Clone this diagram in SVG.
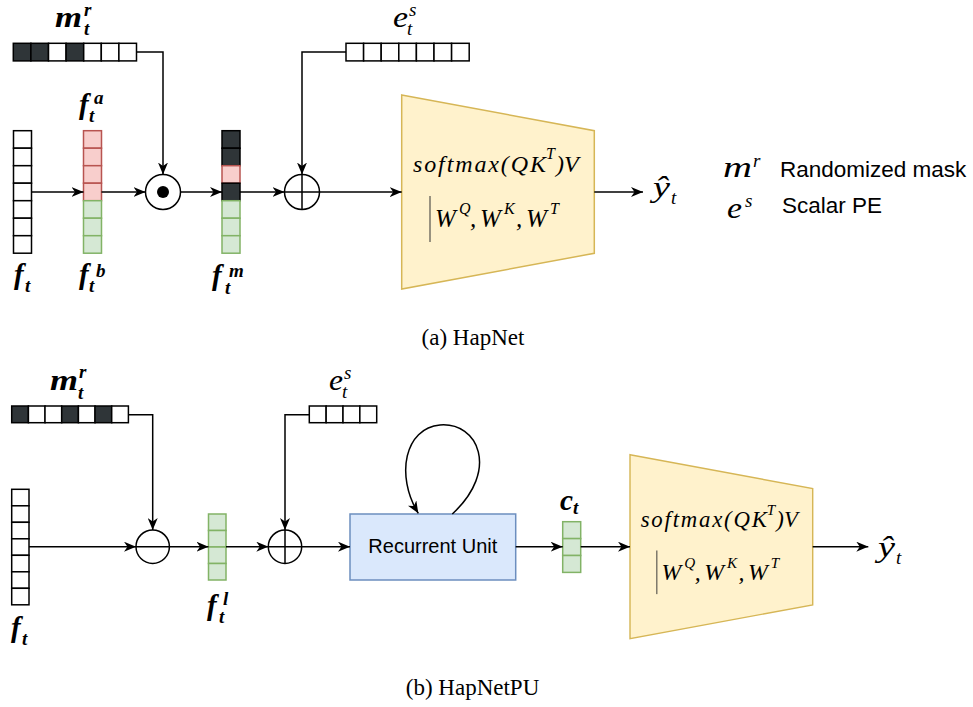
<svg xmlns="http://www.w3.org/2000/svg" width="973" height="707" viewBox="0 0 973 707">
<style>
.w{fill:#fff;stroke:#000;stroke-width:1.5}
.d{fill:#2f3538;stroke:#000;stroke-width:1.5}
.r{fill:#f8cecc;stroke:#b85450;stroke-width:1.5}
.g{fill:#d5e8d4;stroke:#82b366;stroke-width:1.5}
.ln{fill:none;stroke:#000;stroke-width:1.5}
.ar{marker-end:url(#arr)}
.mb{font-family:"Liberation Serif",serif;font-style:italic;font-weight:bold;font-size:29px;fill:#000}
.mbs{font-family:"Liberation Serif",serif;font-style:italic;font-weight:bold;font-size:19px;fill:#000}
.mi{font-family:"Liberation Serif",serif;font-style:italic;font-size:29px;fill:#000}
.mis{font-family:"Liberation Serif",serif;font-style:italic;font-size:19px;fill:#000}
.mx{font-family:"Liberation Serif",serif;font-style:italic;font-size:24px;fill:#000}
.mw{font-family:"Liberation Serif",serif;font-style:italic;font-size:25px;fill:#000}
.mxs{font-family:"Liberation Serif",serif;font-style:italic;font-size:16px;fill:#000}
.sans{font-family:"Liberation Sans",Arial,sans-serif;fill:#000}
.cap{font-family:"Liberation Serif",serif;font-size:23px;text-anchor:middle;fill:#000}
.trap{fill:#fff2cc;stroke:#d6b656;stroke-width:1.5}
</style>
<defs>
<marker id="arr" viewBox="0 0 12 10" refX="12" refY="5" markerWidth="12" markerHeight="10" orient="auto" markerUnits="userSpaceOnUse">
<path d="M0,0 L12,5 L0,10 L3.5,5 Z" fill="#000"/>
</marker>
</defs>

<!-- ===== (a) HapNet ===== -->
<g id="a-mask">
<rect class="d" x="13.3" y="43.3" width="17.6" height="17.6"/>
<rect class="d" x="30.9" y="43.3" width="17.6" height="17.6"/>
<rect class="w" x="48.5" y="43.3" width="17.6" height="17.6"/>
<rect class="d" x="66.1" y="43.3" width="17.6" height="17.6"/>
<rect class="w" x="83.7" y="43.3" width="17.6" height="17.6"/>
<rect class="w" x="101.3" y="43.3" width="17.6" height="17.6"/>
<rect class="w" x="118.9" y="43.3" width="17.6" height="17.6"/>
<text class="mb" x="55" y="27" textLength="27" lengthAdjust="spacingAndGlyphs">m</text>
<text class="mbs" x="84" y="16">r</text>
<text class="mbs" x="84" y="35">t</text>
</g>
<g id="a-ft">
<rect class="w" x="13.5" y="130.7" width="18" height="17.5"/>
<rect class="w" x="13.5" y="148.2" width="18" height="17.5"/>
<rect class="w" x="13.5" y="165.7" width="18" height="17.5"/>
<rect class="w" x="13.5" y="183.2" width="18" height="17.5"/>
<rect class="w" x="13.5" y="200.7" width="18" height="17.5"/>
<rect class="w" x="13.5" y="218.2" width="18" height="17.5"/>
<rect class="w" x="13.5" y="235.7" width="18" height="17.5"/>
<text class="mb" x="14" y="284">f</text>
<text class="mbs" x="25" y="292">t</text>
</g>
<g id="a-fab">
<rect class="r" x="83.5" y="130.7" width="18" height="17.5"/>
<rect class="r" x="83.5" y="148.2" width="18" height="17.5"/>
<rect class="r" x="83.5" y="165.7" width="18" height="17.5"/>
<rect class="r" x="83.5" y="183.2" width="18" height="17.5"/>
<rect class="g" x="83.5" y="200.7" width="18" height="17.5"/>
<rect class="g" x="83.5" y="218.2" width="18" height="17.5"/>
<rect class="g" x="83.5" y="235.7" width="18" height="17.5"/>
<text class="mb" x="79" y="114">f</text>
<text class="mbs" x="94" y="104">a</text>
<text class="mbs" x="89" y="122">t</text>
<text class="mb" x="79" y="284">f</text>
<text class="mbs" x="96" y="277">b</text>
<text class="mbs" x="89" y="292">t</text>
</g>
<g id="a-odot">
<circle cx="163" cy="192" r="17.5" fill="#fff" stroke="#000" stroke-width="1.5"/>
<circle cx="163" cy="192" r="6" fill="#000"/>
</g>
<g id="a-fm">
<rect class="d" x="222" y="130.7" width="18" height="17.5"/>
<rect class="d" x="222" y="148.2" width="18" height="17.5"/>
<rect class="r" x="222" y="165.7" width="18" height="17.5"/>
<rect class="d" x="222" y="183.2" width="18" height="17.5"/>
<rect class="g" x="222" y="200.7" width="18" height="17.5"/>
<rect class="g" x="222" y="218.2" width="18" height="17.5"/>
<rect class="g" x="222" y="235.7" width="18" height="17.5"/>
<text class="mb" x="212" y="285">f</text>
<text class="mbs" x="229" y="277">m</text>
<text class="mbs" x="225" y="294">t</text>
</g>
<g id="a-oplus">
<circle cx="302" cy="192" r="17.5" fill="#fff" stroke="#000" stroke-width="1.5"/>
<path class="ln" d="M284.5,192 H319.5 M302,174.5 V209.5"/>
</g>
<g id="a-es">
<rect class="w" x="346" y="43.3" width="17.6" height="17.6"/>
<rect class="w" x="363.6" y="43.3" width="17.6" height="17.6"/>
<rect class="w" x="381.2" y="43.3" width="17.6" height="17.6"/>
<rect class="w" x="398.8" y="43.3" width="17.6" height="17.6"/>
<rect class="w" x="416.4" y="43.3" width="17.6" height="17.6"/>
<rect class="w" x="434" y="43.3" width="17.6" height="17.6"/>
<rect class="w" x="451.6" y="43.3" width="17.6" height="17.6"/>
<text class="mi" x="393" y="27" textLength="15" lengthAdjust="spacingAndGlyphs">e</text>
<text class="mis" x="409" y="16">s</text>
<text class="mis" x="407" y="35">t</text>
</g>
<g id="a-attn">
<path class="trap" d="M401.7,95 L594.3,130.7 L594.3,253.3 L401.7,289 Z"/>
<text class="mx" x="413" y="171.7" textLength="133" lengthAdjust="spacing">softmax(QK</text>
<text class="mxs" x="546" y="159">T</text>
<text class="mx" x="556" y="171.7">)V</text>
<line x1="430" y1="196" x2="430" y2="242" stroke="#333" stroke-width="1"/>
<text class="mw" x="435" y="226.7">W</text>
<text class="mxs" x="459" y="214">Q</text>
<text class="mw" x="470" y="226.7">,</text>
<text class="mw" x="480" y="226.7">W</text>
<text class="mxs" x="504" y="214">K</text>
<text class="mw" x="516" y="226.7">,</text>
<text class="mw" x="526" y="226.7">W</text>
<text class="mxs" x="550" y="214">T</text>
</g>
<g id="a-out">
<text class="mi" x="653" y="197" textLength="17" lengthAdjust="spacingAndGlyphs">ŷ</text>
<text class="mis" x="671" y="204">t</text>
</g>
<g id="legend">
<text class="mi" x="723" y="177" textLength="29" lengthAdjust="spacingAndGlyphs">m</text>
<text class="mis" x="753" y="167">r</text>
<text class="sans" x="780" y="177" font-size="22.5">Randomized mask</text>
<text class="mi" x="727" y="218" textLength="15" lengthAdjust="spacingAndGlyphs">e</text>
<text class="mis" x="745" y="207">s</text>
<text class="sans" x="782" y="213" font-size="22.5">Scalar PE</text>
</g>
<text class="cap" x="473" y="345">(a) HapNet</text>

<!-- ===== (b) HapNetPU ===== -->
<g id="b-mask">
<rect class="d" x="11.7" y="406" width="16.7" height="16.7"/>
<rect class="w" x="28.4" y="406" width="16.7" height="16.7"/>
<rect class="w" x="45.0" y="406" width="16.7" height="16.7"/>
<rect class="d" x="61.7" y="406" width="16.7" height="16.7"/>
<rect class="w" x="78.4" y="406" width="16.7" height="16.7"/>
<rect class="d" x="95.0" y="406" width="16.7" height="16.7"/>
<rect class="w" x="111.7" y="406" width="16.7" height="16.7"/>
<text class="mb" x="50" y="390" textLength="28" lengthAdjust="spacingAndGlyphs">m</text>
<text class="mbs" x="79" y="378">r</text>
<text class="mbs" x="78" y="399">t</text>
</g>
<g id="b-ft">
<rect class="w" x="11.7" y="489.3" width="17.3" height="16.5"/>
<rect class="w" x="11.7" y="505.8" width="17.3" height="16.5"/>
<rect class="w" x="11.7" y="522.3" width="17.3" height="16.5"/>
<rect class="w" x="11.7" y="538.8" width="17.3" height="16.5"/>
<rect class="w" x="11.7" y="555.3" width="17.3" height="16.5"/>
<rect class="w" x="11.7" y="571.8" width="17.3" height="16.5"/>
<rect class="w" x="11.7" y="588.3" width="17.3" height="16.5"/>
<text class="mb" x="11" y="637">f</text>
<text class="mbs" x="22" y="645">t</text>
</g>
<g id="b-op">
<circle cx="152.7" cy="546.7" r="16.7" fill="#fff" stroke="#000" stroke-width="1.5"/>
<path class="ln" d="M136,546.7 H169.4"/>
</g>
<g id="b-fl">
<rect class="g" x="208.5" y="514" width="17.5" height="16.5"/>
<rect class="g" x="208.5" y="530.5" width="17.5" height="16.5"/>
<rect class="g" x="208.5" y="547" width="17.5" height="16.5"/>
<rect class="g" x="208.5" y="563.5" width="17.5" height="16.5"/>
<text class="mb" x="207" y="615">f</text>
<text class="mbs" x="223" y="605">l</text>
<text class="mbs" x="219" y="623">t</text>
</g>
<g id="b-oplus">
<circle cx="285" cy="546.7" r="16.7" fill="#fff" stroke="#000" stroke-width="1.5"/>
<path class="ln" d="M268.3,546.7 H301.7 M285,530 V563.4"/>
</g>
<g id="b-es">
<rect class="w" x="309.3" y="406" width="16.85" height="16.7"/>
<rect class="w" x="326.15" y="406" width="16.85" height="16.7"/>
<rect class="w" x="343" y="406" width="16.85" height="16.7"/>
<rect class="w" x="359.85" y="406" width="16.85" height="16.7"/>
<text class="mi" x="329" y="390" textLength="14" lengthAdjust="spacingAndGlyphs">e</text>
<text class="mis" x="344" y="379">s</text>
<text class="mis" x="342" y="398">t</text>
</g>
<g id="b-rnn">
<rect x="350" y="514" width="165.7" height="66" fill="#dae8fc" stroke="#6c8ebf" stroke-width="1.5"/>
<text class="sans" x="432.8" y="553" font-size="20" text-anchor="middle">Recurrent Unit</text>
</g>
<g id="b-ct">
<rect class="g" x="562.7" y="521.7" width="18" height="16.9"/>
<rect class="g" x="562.7" y="538.6" width="18" height="16.9"/>
<rect class="g" x="562.7" y="555.5" width="18" height="16.9"/>
<text class="mb" x="560" y="510" textLength="13" lengthAdjust="spacingAndGlyphs">c</text>
<text class="mbs" x="573" y="514">t</text>
</g>
<g id="b-attn" transform="translate(248.95,364.57) scale(0.9486)">
<path class="trap" d="M401.7,95 L594.3,130.7 L594.3,253.3 L401.7,289 Z"/>
<text class="mx" x="413" y="171.7" textLength="133" lengthAdjust="spacing">softmax(QK</text>
<text class="mxs" x="546" y="159">T</text>
<text class="mx" x="556" y="171.7">)V</text>
<line x1="430" y1="196" x2="430" y2="242" stroke="#333" stroke-width="1"/>
<text class="mw" x="435" y="226.7">W</text>
<text class="mxs" x="459" y="214">Q</text>
<text class="mw" x="470" y="226.7">,</text>
<text class="mw" x="480" y="226.7">W</text>
<text class="mxs" x="504" y="214">K</text>
<text class="mw" x="516" y="226.7">,</text>
<text class="mw" x="526" y="226.7">W</text>
<text class="mxs" x="550" y="214">T</text>
</g>
<g id="b-out">
<text class="mi" x="878" y="557" textLength="17" lengthAdjust="spacingAndGlyphs">ŷ</text>
<text class="mis" x="896" y="564">t</text>
</g>
<text class="cap" x="472.5" y="695">(b) HapNetPU</text>

<!-- connectors -->
<g id="connectors">
<path class="ln ar" d="M31.5,192 H83.5"/>
<path class="ln ar" d="M101.5,192 H145.5"/>
<path class="ln ar" d="M180.5,192 H222"/>
<path class="ln ar" d="M240,192 H284.5"/>
<path class="ln ar" d="M319.5,192 H401.7"/>
<path class="ln ar" d="M594.3,192 H643"/>
<path class="ln ar" d="M136.5,52 H163 V174.5"/>
<path class="ln ar" d="M346,52 H302 V174.5"/>

<path class="ln ar" d="M29,546.7 H136"/>
<path class="ln ar" d="M169.4,546.7 H208.5"/>
<path class="ln ar" d="M226,546.7 H268.3"/>
<path class="ln ar" d="M301.7,546.7 H350"/>
<path class="ln ar" d="M515.7,546.7 H562.7"/>
<path class="ln ar" d="M580.7,546.7 H630"/>
<path class="ln ar" d="M812.7,546.7 H868.3"/>
<path class="ln ar" d="M128.4,414.7 H152.7 V530"/>
<path class="ln ar" d="M309.3,414.7 H285 V530"/>
<path class="ln ar" d="M452.3,514 C500,470 478,422 440,425 C405,428 395,475 418.3,513.3"/>
</g>
</svg>
